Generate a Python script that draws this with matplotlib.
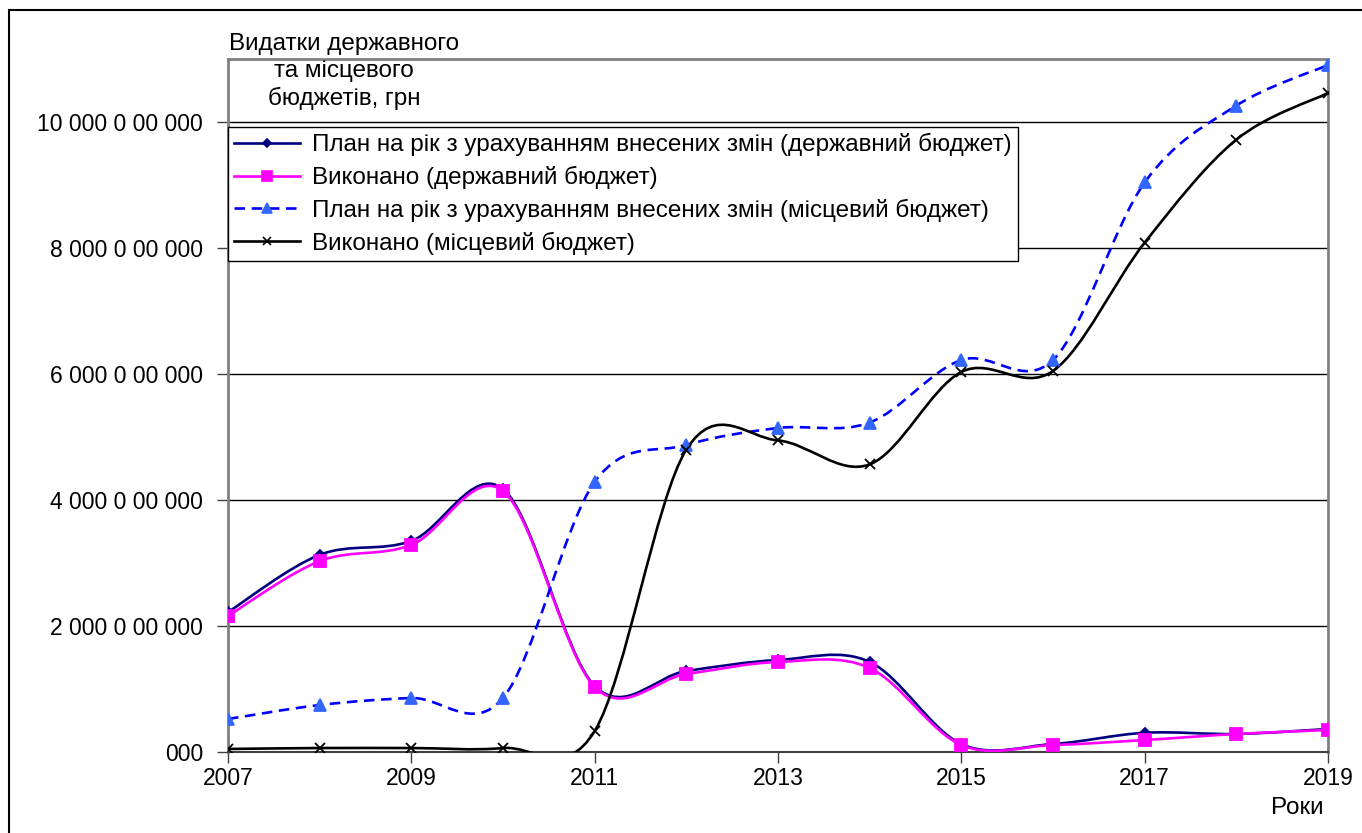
import matplotlib
matplotlib.use("Agg")
import matplotlib.pyplot as plt
import numpy as np
from matplotlib.path import Path
from matplotlib.patches import PathPatch, Rectangle
from matplotlib.lines import Line2D

plt.rcParams['font.family'] = ['Liberation Sans', 'DejaVu Sans']

years = [2007, 2008, 2009, 2010, 2011, 2012, 2013, 2014, 2015, 2016, 2017, 2018, 2019]
# values in millions (axis units)
state_plan = [2220, 3130, 3350, 4175, 1048, 1286, 1460, 1430, 127, 127, 305, 286, 365]
state_done = [2160, 3030, 3286, 4143, 1032, 1238, 1429, 1333, 111, 111, 190, 286, 349]
local_plan = [524, 746, 857, 857, 4286, 4873, 5143, 5230, 6222, 6222, 9040, 10260, 10905]
local_done = [48, 63, 63, 63, 333, 4800, 4945, 4565, 6032, 6048, 8085, 9720, 10460]

labels = ['План на рік з урахуванням внесених змін (державний бюджет)',
          'Виконано (державний бюджет)',
          'План на рік з урахуванням внесених змін (місцевий бюджет)',
          'Виконано (місцевий бюджет)']
ytick_vals = [0, 2000, 4000, 6000, 8000, 10000]
ytick_labels = ['000', '2 000 0 00 000', '4 000 0 00 000', '6 000 0 00 000',
                '8 000 0 00 000', '10 000 0 00 000']
xtick_vals = [2007, 2009, 2011, 2013, 2015, 2017, 2019]
ylabel_text = 'Видатки державного\nта місцевого\nбюджетів, грн'
xlabel_text = 'Роки'


def smooth_path(x, y):
    P = np.column_stack([np.asarray(x, float), np.asarray(y, float)])
    n = len(P)
    verts = [tuple(P[0])]
    codes = [Path.MOVETO]
    for i in range(n - 1):
        p0 = P[i - 1] if i > 0 else P[i]
        p3 = P[i + 2] if i + 2 < n else P[i + 1]
        c1 = P[i] + (P[i + 1] - p0) / 6.0
        c2 = P[i + 1] - (p3 - P[i]) / 6.0
        verts += [tuple(c1), tuple(c2), tuple(P[i + 1])]
        codes += [Path.CURVE4] * 3
    return Path(verts, codes)


fig = plt.figure(figsize=(13.62, 8.33), dpi=100)
ax = fig.add_axes([228 / 1362, 1 - 752 / 833, 1100 / 1362, 693 / 833])

styles = [
    dict(color='#000080', marker='D', ms=5, mfc='#000080', mec='#000080', ls='-'),
    dict(color='#FF00FF', marker='s', ms=8, mfc='#FF00FF', mec='#FF00FF', ls='-'),
    dict(color='#0000FF', marker='^', ms=8, mfc='#3366FF', mec='#3366FF', ls=(0, (4, 2.5))),
    dict(color='#000000', marker='x', ms=7, mfc='#000000', mec='#000000', ls='-'),
]
series = [state_plan, state_done, local_plan, local_done]

for yv, st in zip(series, styles):
    path = smooth_path(years, yv)
    patch = PathPatch(path, fill=False, edgecolor=st['color'], lw=1.9,
                      linestyle=st['ls'], zorder=3)
    ax.add_patch(patch)
    ax.plot(years, yv, linestyle='none', marker=st['marker'], ms=st['ms'],
            mfc=st['mfc'], mec=st['mec'], mew=1.3, zorder=4)

ax.set_xlim(2007, 2019)
ax.set_ylim(0, 11000)
ax.set_yticks(ytick_vals)
ax.set_yticklabels(ytick_labels, fontsize=16.5)
ax.set_xticks(xtick_vals)
ax.set_xticklabels([str(v) for v in xtick_vals], fontsize=16.5)
ax.tick_params(axis='y', direction='out', length=8, width=1, color='#404040', pad=10)
ax.tick_params(axis='x', direction='out', length=8, width=1, color='#404040', pad=3)
for yv in ytick_vals[1:]:
    ax.axhline(yv, color='black', lw=1, zorder=1)
for s in ['left', 'right', 'top']:
    ax.spines[s].set_color('#808080')
    ax.spines[s].set_linewidth(2)
ax.spines['bottom'].set_color('#404040')
ax.spines['bottom'].set_linewidth(1.5)

handles = [Line2D([], [], color=st['color'], lw=1.9, linestyle=st['ls'],
                  marker=st['marker'], ms=st['ms'] * 0.85, mfc=st['mfc'], mec=st['mec'], mew=1.2)
           for st in styles]
leg = ax.legend(handles, labels, loc='upper left', bbox_to_anchor=(0, (752 - 127) / 693),
                borderaxespad=0, fontsize=17.5, frameon=True, fancybox=False,
                edgecolor='black', framealpha=1, handlelength=2.7, handletextpad=0.5,
                labelspacing=0.4, borderpad=0.25)
leg.get_frame().set_linewidth(1)
leg.set_zorder(5)

fig.text(344 / 1362, 1 - 33 / 833, ylabel_text, ha='center', va='top',
         multialignment='center', fontsize=17.5, linespacing=1.28)
fig.text(1297 / 1362, 1 - 808 / 833, xlabel_text, ha='center', va='center', fontsize=17.5)

fig.patches.append(Rectangle((9 / 1362, -0.1), 1.2, 1 - 10 / 833 + 0.1,
                             transform=fig.transFigure, fill=False,
                             edgecolor='black', lw=1.5))

fig.savefig('out.png', dpi=100)
